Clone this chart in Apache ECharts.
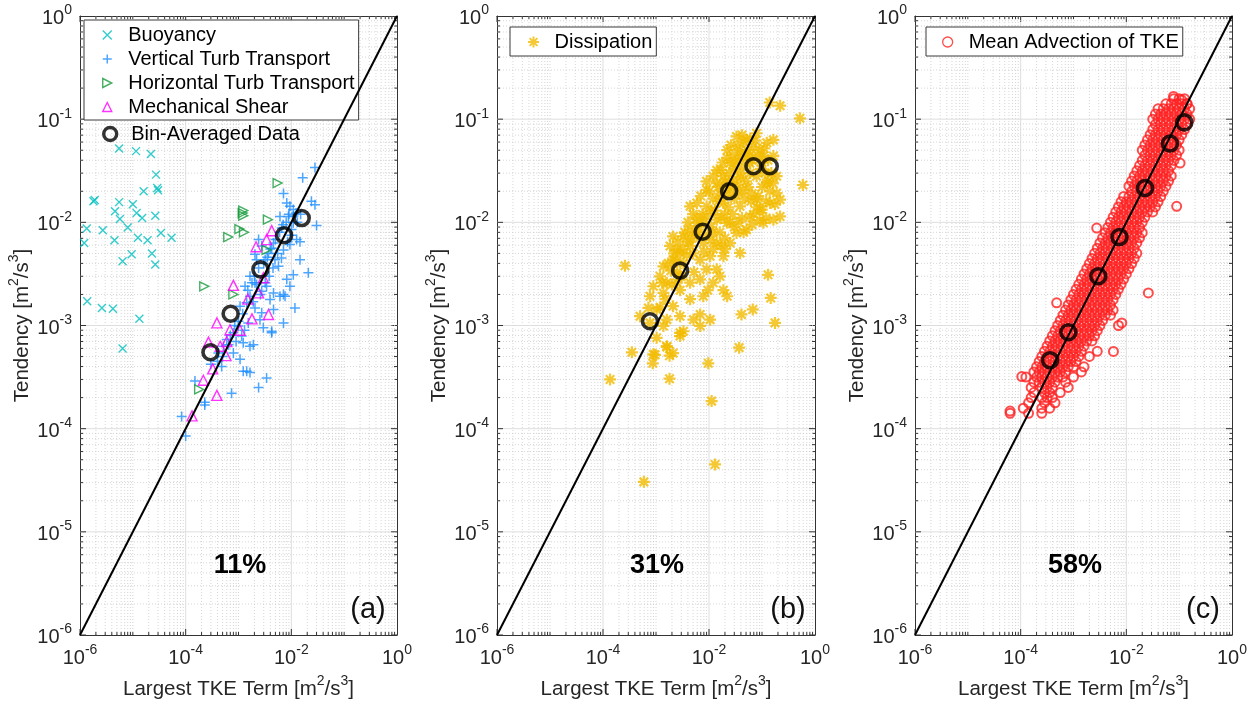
<!DOCTYPE html>
<html><head><meta charset="utf-8">
<script src="https://cdn.jsdelivr.net/npm/echarts@6/dist/echarts.min.js"></script>
<style>html,body{margin:0;padding:0;background:#fff}#c{width:1257px;height:705px}</style>
</head><body><div id="c"></div><script>
// ---------------- DATA ----------------
const axisLimits = [1e-6, 1];
const xLabelExponents = [-6, -4, -2, 0];
const yLabelExponents = [-6, -5, -4, -3, -2, -1, 0];
const oneToOne = [1e-6, 1];
const percentLabels = ['11%', '31%', '58%'];
const panelLabels = ['(a)', '(b)', '(c)'];
const xAxisName = 'Largest TKE Term';
const yAxisName = 'Tendency';

const buoyancy = [[5.5e-6,5.2e-2],[1.15e-5,4.9e-2],[2.2e-5,4.6e-2],[2.75e-5,2.9e-2],[1.6e-5,2.0e-2],[2.9e-5,2.15e-2],[3.0e-5,2.05e-2],[1.9e-6,1.65e-2],[1.8e-6,1.6e-2],[5.5e-6,1.57e-2],[1.0e-5,1.5e-2],[4.6e-6,1.28e-2],[1.18e-5,1.23e-2],[2.66e-5,1.16e-2],[5.7e-6,1.08e-2],[1.5e-5,1.1e-2],[8.0e-6,8.9e-3],[1.34e-6,8.7e-3],[2.7e-6,8.4e-3],[3.4e-5,7.9e-3],[5.4e-5,7.1e-3],[1.25e-5,7.1e-3],[1.9e-5,6.7e-3],[4.5e-6,6.7e-3],[1.2e-6,6.3e-3],[9.5e-6,4.9e-3],[2.3e-5,5.0e-3],[6.4e-6,4.2e-3],[2.66e-5,3.9e-3],[1.37e-6,1.72e-3],[2.6e-6,1.48e-3],[4.2e-6,1.45e-3],[1.33e-5,1.16e-3],[6.4e-6,6.0e-4]];

const vertTurbTransport = [[2.8e-2,3.4e-2],[1.64e-2,2.7e-2],[7.1e-3,1.9e-2],[8.2e-3,1.54e-2],[9.4e-3,1.43e-2],[1.09e-2,1.33e-2],[1.23e-2,1.23e-2],[2.4e-2,1.6e-2],[2.8e-2,1.48e-2],[3.0e-2,9.3e-3],[1.09e-2,9.9e-3],[8.8e-3,1.14e-2],[6.1e-3,1.14e-2],[6.6e-3,8.8e-3],[1.01e-2,8.5e-3],[1.26e-2,6.8e-3],[1.46e-2,6.5e-3],[9.4e-3,6.1e-3],[7.1e-3,5.4e-3],[4.6e-3,6.3e-3],[4.25e-3,5.6e-3],[3.7e-3,5.0e-3],[3.2e-3,4.35e-3],[2.4e-3,6.8e-3],[2.75e-3,5.9e-3],[2.05e-3,4.9e-3],[2.2e-3,4.35e-3],[4.9e-3,4.35e-3],[5.7e-3,3.76e-3],[1.46e-2,4.35e-3],[2.1e-2,3.24e-3],[1.09e-2,3.1e-3],[8.2e-3,2.8e-3],[9.4e-3,2.4e-3],[7.1e-3,2.0e-3],[6.1e-3,1.92e-3],[4.6e-3,2.07e-3],[3.95e-3,1.79e-3],[3.4e-3,2.4e-3],[2.75e-3,2.15e-3],[2.05e-3,2.6e-3],[1.65e-3,3.0e-3],[1.33e-3,2.4e-3],[1.65e-3,1.92e-3],[1.43e-3,1.66e-3],[1.07e-3,1.54e-3],[2.05e-3,1.48e-3],[2.75e-3,1.33e-3],[4.6e-3,1.43e-3],[7.6e-3,1.92e-3],[1.17e-2,1.48e-3],[2.55e-3,1.14e-3],[1.53e-3,1.06e-3],[9.9e-4,9.9e-4],[8.0e-4,8.5e-4],[6.0e-4,7.3e-4],[1.15e-3,7.9e-4],[1.23e-3,6.8e-4],[1.65e-3,6.3e-4],[4.25e-3,8.5e-4],[7.1e-3,1.06e-3],[5.2e-4,6.3e-4],[4.15e-4,5.4e-4],[4.8e-4,4.0e-4],[1.07e-3,4.7e-4],[1.23e-3,3.6e-4],[1.65e-3,3.5e-4],[8.0e-4,5.4e-4],[3.4e-3,3.1e-4],[2.4e-3,2.5e-4],[7.4e-4,2.2e-4],[2.3e-4,1.7e-4],[1.5e-4,2.9e-4],[8.4e-5,1.31e-4],[1.0e-4,8.5e-5],[2.3e-4,1.8e-4],[1.43e-3,3.6e-4],[4.25e-3,8.8e-4],[1.91e-3,6.5e-4],[2.95e-3,9.5e-4],[2.0e-3,3.0e-3],[2.4e-3,3.6e-3],[3.0e-3,4.0e-3],[1.8e-3,2.6e-3],[1.5e-3,2.2e-3],[2.2e-3,2.5e-3],[3.5e-3,4.6e-3],[4.0e-3,5.5e-3],[5.0e-3,6.8e-3],[6.0e-3,8.0e-3],[7.0e-3,9.5e-3],[8.0e-3,1.0e-2],[9.0e-3,1.2e-2],[1.1e-2,1.15e-2],[5.5e-3,5.0e-3],[4.5e-3,3.6e-3],[3.8e-3,3.0e-3],[3.2e-3,2.6e-3],[2.6e-3,2.0e-3],[1.9e-3,1.7e-3],[1.2e-3,1.3e-3],[1.0e-3,1.1e-3],[8.5e-4,1.0e-3],[7.0e-4,8.0e-4],[6.5e-4,6.5e-4],[9.0e-4,7.0e-4],[1.3e-3,9.0e-4],[5.0e-4,5.0e-4],[4.0e-4,4.5e-4],[3.0e-4,4.2e-4],[1.3e-2,1.0e-2],[1.0e-2,7.5e-3],[8.5e-3,6.5e-3],[6.5e-3,4.5e-3],[1.5e-2,1.2e-2]];

const horizTurbTransport = [[5.5e-3,2.4e-2],[1.23e-3,1.3e-2],[1.2e-3,1.23e-2],[1.23e-3,1.16e-2],[3.6e-3,1.06e-2],[6.4e-4,7.2e-3],[1.04e-3,8.6e-3],[1.27e-3,8.0e-3],[2.25e-4,2.4e-3],[8.0e-4,2.0e-3],[1.8e-4,2.4e-4],[3.4e-3,5.4e-3]];

const mechShear = [[8.0e-4,2.45e-3],[3.9e-4,1.06e-3],[1.07e-3,9.0e-4],[1.8e-3,1.16e-3],[3.7e-3,1.28e-3],[2.7e-4,6.9e-4],[3.25e-4,3.8e-4],[2.16e-4,2.95e-4],[3.9e-4,2.1e-4],[1.32e-4,1.33e-4],[5.8e-4,5.1e-4],[2.15e-3,5.8e-3],[4.25e-3,8.3e-3],[3.4e-3,6.8e-3],[2.95e-3,2.9e-3],[2.4e-3,2.07e-3],[6.0e-4,7.0e-4],[4.5e-4,6.3e-4],[6.9e-4,9.1e-4],[1.5e-3,1.8e-3]];

const binAvgA = [[1.57e-2,1.1e-2],[7.3e-3,7.5e-3],[2.6e-3,3.5e-3],[7.1e-4,1.3e-3],[2.95e-4,5.5e-4]];

const dissipation = [[5.2e-1,1.02e-1],[5.9e-1,2.3e-2],[1.3e-1,3.1e-3],[1.46e-1,1.85e-3],[1.76e-1,1.06e-3],[6.7e-2,1.43e-3],[4.1e-2,1.28e-3],[3.7e-2,6.1e-4],[2.6e-4,3.8e-3],[2.2e-1,1.35e-1],[1.4e-1,1.45e-1],[3.5e-4,5.5e-4],[1.36e-4,3.0e-4],[8.7e-4,4.3e-4],[9.6e-4,5.2e-4],[1.8e-3,5.1e-4],[2.1e-3,5.4e-4],[1.8e-3,3.05e-4],[9.7e-3,4.3e-4],[1.12e-2,1.85e-4],[1.3e-2,4.5e-5],[5.9e-4,3.05e-5],[1.6e-3,6.2e-4],
[7.9e-2,7.3e-2],[5.1e-2,6.3e-2],[3.3e-2,6.8e-2],[2.2e-2,5.0e-2],[3.85e-2,5.0e-2],[6.9e-2,5.4e-2],[1.23e-1,5.9e-2],[1.64e-1,6.3e-2],[1.06e-1,4.4e-2],[1.64e-1,4.4e-2],[1.89e-1,2.8e-2],[5.9e-2,3.75e-2],[2.5e-2,3.75e-2],[1.4e-2,3.2e-2],[1.87e-2,2.8e-2],[3.85e-2,3.0e-2],[7.9e-2,2.8e-2],[1.23e-1,2.4e-2],[1.89e-1,1.92e-2],[2.19e-1,1.66e-2],[1.42e-1,1.54e-2],[7.9e-2,1.66e-2],[4.45e-2,2.07e-2],[2.9e-2,2.2e-2],[1.4e-2,2.4e-2],[9.0e-3,2.07e-2],[5.9e-3,1.54e-2],[4.4e-3,1.43e-2],[9.0e-3,1.43e-2],[1.87e-2,1.54e-2],[3.85e-2,1.43e-2],[5.9e-2,1.14e-2],[9.2e-2,1.33e-2],[1.06e-1,9.9e-3],[1.64e-1,1.06e-2],[2.19e-1,1.14e-2],[5.1e-2,8.5e-3],[3.3e-2,7.9e-3],[2.2e-2,9.9e-3],[1.4e-2,1.06e-2],[9.0e-3,1.14e-2],[5.9e-3,9.9e-3],[4.4e-3,8.5e-3],[3.3e-3,7.3e-3],[2.1e-3,7.3e-3],[1.84e-3,5.9e-3],[2.45e-3,5.4e-3],[4.4e-3,5.9e-3],[7.8e-3,6.3e-3],[1.4e-2,6.3e-3],[2.5e-2,6.3e-3],[3.85e-2,5.05e-3],[1.87e-2,4.7e-3],[1.05e-2,4.7e-3],[6.8e-3,4.35e-3],[1.4e-2,3.5e-3],[3.3e-3,4.0e-3],[2.1e-3,4.35e-3],[1.38e-3,3.75e-3],[1.19e-3,3.0e-3],[1.6e-3,2.6e-3],[8.9e-4,2.4e-3],[7.7e-4,1.92e-3],[1.38e-3,2.07e-3],[4.4e-3,2.6e-3],[6.8e-3,2.8e-3],[1.2e-2,2.6e-3],[1.87e-2,2.2e-3],[2.2e-2,1.92e-3],[4.4e-3,1.8e-3],[7.8e-3,1.92e-3],[2.84e-3,2.2e-3],[2.1e-3,1.54e-3],[5.0e-4,1.23e-3],[1.03e-3,1.43e-3],[7.7e-4,1.06e-3],[1.6e-3,1.14e-3],[2.84e-3,1.23e-3],[5.1e-3,1.14e-3],[6.8e-3,9.9e-4],[1.05e-2,1.14e-3],[2.84e-3,8.5e-4],[9.9e-2,1.33e-2],
[8.9e-4,5.25e-4],[1.03e-3,7.6e-4],[1.6e-3,6.3e-4],[2.84e-3,7.9e-4],[3.3e-3,8.8e-4],[7.2e-4,1.48e-3],[6.8e-3,1.28e-3],[1.38e-3,9.9e-4],
[1.0e-2,2.0e-2],[1.2e-2,1.7e-2],[1.6e-2,1.9e-2],[2.0e-2,2.5e-2],[3.0e-2,2.6e-2],[3.5e-2,4.0e-2],[4.5e-2,3.5e-2],[2.8e-2,1.2e-2],[2.0e-2,1.2e-2],[1.6e-2,8.0e-3],[1.1e-2,6.8e-3],[8.0e-3,1.0e-2],[6.0e-3,7.5e-3],[5.0e-3,5.0e-3],[3.8e-3,4.8e-3],[3.0e-3,3.0e-3],[2.5e-3,3.3e-3],[2.0e-3,2.5e-3],[1.5e-3,1.8e-3],[1.2e-3,1.5e-3],[9.0e-3,3.5e-3],[6.0e-2,4.5e-2],[9.0e-2,5.0e-2],[1.3e-1,4.0e-2],[1.5e-1,3.0e-2],[1.0e-1,2.2e-2],[7.0e-2,1.2e-2],[3.0e-2,1.7e-2],[5.0e-2,2.5e-2],[2.4e-2,3.0e-2],
[3.5e-2,5.5e-2],[4.5e-2,6.0e-2],[6.0e-2,6.5e-2],[2.8e-2,4.5e-2],[1.8e-2,3.8e-2],[1.2e-2,2.8e-2],[9.0e-3,2.5e-2],[7.0e-3,1.8e-2],[5.0e-3,1.2e-2],[4.0e-3,1.0e-2],[3.5e-3,8.0e-3],[2.6e-3,6.5e-3],[2.2e-3,5.0e-3],[1.7e-3,4.0e-3],[1.3e-3,2.6e-3],[2.8e-3,3.0e-3],[3.2e-3,5.5e-3],[4.8e-3,7.0e-3],[6.5e-3,8.5e-3],[8.5e-3,7.5e-3],[1.1e-2,9.0e-3],[1.3e-2,1.3e-2],[1.7e-2,1.1e-2],[2.3e-2,1.4e-2],[2.6e-2,1.9e-2],[3.4e-2,2.3e-2],[4.0e-2,2.7e-2],[5.5e-2,2.2e-2],[6.5e-2,1.9e-2],[8.5e-2,1.8e-2],[1.2e-1,1.6e-2],[1.4e-1,2.0e-2],[6.0e-2,3.0e-2],[9.5e-2,3.3e-2],[1.1e-1,5.2e-2],[4.8e-2,4.6e-2],[3.0e-2,3.3e-2],[2.1e-2,2.1e-2],[1.5e-2,1.6e-2],[8.0e-3,5.2e-3],[1.2e-2,5.5e-3],[2.0e-2,7.0e-3],[3.0e-2,9.0e-3],[4.2e-2,1.1e-2],[5.2e-3,3.3e-3],[2.5e-3,2.6e-3],[9.5e-3,2.2e-3],[1.6e-2,3.0e-3],
[1.5e-2,2.2e-2],[1.7e-2,3.2e-2],[2.2e-2,4.2e-2],[2.6e-2,5.6e-2],[3.1e-2,3.8e-2],[3.9e-2,4.4e-2],[4.2e-2,7.0e-2],[5.5e-2,5.0e-2],[6.5e-2,4.0e-2],[7.5e-2,6.2e-2],[8.5e-2,4.4e-2],[1.0e-1,3.8e-2],[1.15e-1,3.0e-2],[1.3e-1,2.5e-2],[1.6e-1,2.4e-2],[1.75e-1,1.5e-2],[1.2e-1,1.1e-2],[8.0e-2,1.4e-2],[6.2e-2,1.6e-2],[4.8e-2,1.7e-2],[3.6e-2,1.9e-2],[2.4e-2,2.4e-2],[1.9e-2,1.8e-2],[1.1e-2,1.3e-2],[7.5e-3,1.2e-2],[6.0e-3,1.1e-2],[5.5e-3,8.0e-3],[4.0e-3,6.5e-3],[2.9e-3,5.0e-3],[2.4e-3,4.2e-3],[1.9e-3,3.4e-3],[4.5e-2,8.0e-3],[3.6e-2,1.0e-2],[2.5e-2,1.0e-2],[1.7e-2,6.0e-3],[1.2e-2,8.0e-3],[6.5e-2,9.5e-3],[9.0e-2,1.05e-2],[2.0e-2,5.5e-3],[5.0e-2,4.2e-2]];

const binAvgB = [[7.7e-4,1.1e-3],[2.85e-3,3.4e-3],[7.6e-3,8.1e-3],[2.4e-2,2.0e-2],[6.9e-2,3.5e-2],[1.4e-1,3.5e-2]];

// Mean advection: rows of [tendency, [largest-term values read across the cloud]]
const advectionRows = [
[0.158,[7.94e-2,0.1,0.126]],
[0.141,[5.62e-2,7.08e-2,8.91e-2,0.112,0.141]],
[0.126,[3.98e-2,5.01e-2,6.31e-2,7.94e-2,0.1,0.126,0.158]],
[0.112,[3.55e-2,4.47e-2,5.62e-2,7.08e-2,8.91e-2,0.112,0.141]],
[0.1,[3.16e-2,3.98e-2,5.01e-2,6.31e-2,7.94e-2,0.1,0.126,0.158]],
[8.91e-2,[3.55e-2,4.47e-2,5.62e-2,7.08e-2,8.91e-2,0.112,0.141]],
[7.94e-2,[3.16e-2,3.98e-2,5.01e-2,6.31e-2,7.94e-2,0.1,0.126]],
[7.08e-2,[2.82e-2,3.55e-2,4.47e-2,5.62e-2,7.08e-2,8.91e-2,0.112]],
[6.31e-2,[2.51e-2,3.16e-2,3.98e-2,5.01e-2,6.31e-2,7.94e-2,0.1]],
[5.62e-2,[2.24e-2,2.82e-2,3.55e-2,4.47e-2,5.62e-2,7.08e-2,8.91e-2]],
[5.01e-2,[2.0e-2,2.51e-2,3.16e-2,3.98e-2,5.01e-2,6.31e-2,7.94e-2,0.1]],
[4.47e-2,[2.24e-2,2.82e-2,3.55e-2,4.47e-2,5.62e-2,7.08e-2,8.91e-2]],
[3.98e-2,[2.0e-2,2.51e-2,3.16e-2,3.98e-2,5.01e-2,6.31e-2,7.94e-2]],
[3.55e-2,[1.78e-2,2.24e-2,2.82e-2,3.55e-2,4.47e-2,5.62e-2,7.08e-2]],
[3.16e-2,[1.58e-2,2.0e-2,2.51e-2,3.16e-2,3.98e-2,5.01e-2,6.31e-2]],
[2.82e-2,[1.41e-2,1.78e-2,2.24e-2,2.82e-2,3.55e-2,4.47e-2,5.62e-2,7.08e-2]],
[2.51e-2,[1.26e-2,1.58e-2,2.0e-2,2.51e-2,3.16e-2,3.98e-2,5.01e-2,6.31e-2]],
[2.24e-2,[1.12e-2,1.41e-2,1.78e-2,2.24e-2,2.82e-2,3.55e-2,4.47e-2,5.62e-2]],
[2.0e-2,[1.26e-2,1.58e-2,2.0e-2,2.51e-2,3.16e-2,3.98e-2,5.01e-2]],
[1.78e-2,[8.91e-3,1.12e-2,1.41e-2,1.78e-2,2.24e-2,2.82e-2,3.55e-2,4.47e-2]],
[1.58e-2,[7.94e-3,1e-2,1.26e-2,1.58e-2,2.0e-2,2.51e-2,3.16e-2,3.98e-2]],
[1.41e-2,[7.08e-3,8.91e-3,1.12e-2,1.41e-2,1.78e-2,2.24e-2,2.82e-2,3.55e-2]],
[1.26e-2,[6.31e-3,7.94e-3,1e-2,1.26e-2,1.58e-2,2.0e-2,2.51e-2,3.16e-2]],
[1.12e-2,[5.62e-3,7.08e-3,8.91e-3,1.12e-2,1.41e-2,1.78e-2,2.24e-2]],
[1e-2,[5.01e-3,6.31e-3,7.94e-3,1e-2,1.26e-2,1.58e-2,2.0e-2]],
[8.91e-3,[4.47e-3,5.62e-3,7.08e-3,8.91e-3,1.12e-2,1.41e-2,1.78e-2]],
[7.94e-3,[3.98e-3,5.01e-3,6.31e-3,7.94e-3,1e-2,1.26e-2,1.58e-2,2.0e-2]],
[7.08e-3,[3.55e-3,4.47e-3,5.62e-3,7.08e-3,8.91e-3,1.12e-2,1.41e-2,1.78e-2]],
[6.31e-3,[3.16e-3,3.98e-3,5.01e-3,6.31e-3,7.94e-3,1e-2,1.26e-2,1.58e-2]],
[5.62e-3,[2.82e-3,3.55e-3,4.47e-3,5.62e-3,7.08e-3,8.91e-3,1.12e-2,1.41e-2]],
[5.01e-3,[2.51e-3,3.16e-3,3.98e-3,5.01e-3,6.31e-3,7.94e-3,1e-2,1.26e-2,1.58e-2]],
[4.47e-3,[2.24e-3,2.82e-3,3.55e-3,4.47e-3,5.62e-3,7.08e-3,8.91e-3,1.12e-2,1.41e-2]],
[3.98e-3,[2.0e-3,2.51e-3,3.16e-3,3.98e-3,5.01e-3,6.31e-3,7.94e-3,1e-2,1.26e-2]],
[3.55e-3,[1.78e-3,2.24e-3,2.82e-3,3.55e-3,4.47e-3,5.62e-3,7.08e-3,8.91e-3,1.12e-2]],
[3.16e-3,[1.58e-3,2.0e-3,2.51e-3,3.16e-3,3.98e-3,5.01e-3,6.31e-3,7.94e-3,1e-2]],
[2.82e-3,[1.41e-3,1.78e-3,2.24e-3,2.82e-3,3.55e-3,4.47e-3,5.62e-3,7.08e-3,8.91e-3]],
[2.51e-3,[1.26e-3,1.58e-3,2.0e-3,2.51e-3,3.16e-3,3.98e-3,5.01e-3,6.31e-3,7.94e-3]],
[2.24e-3,[1.12e-3,1.41e-3,1.78e-3,2.24e-3,2.82e-3,3.55e-3,4.47e-3,5.62e-3,7.08e-3]],
[2.0e-3,[1e-3,1.26e-3,1.58e-3,2.0e-3,2.51e-3,3.16e-3,3.98e-3,5.01e-3,6.31e-3]],
[1.78e-3,[8.91e-4,1.12e-3,1.41e-3,1.78e-3,2.24e-3,2.82e-3,3.55e-3,4.47e-3,5.62e-3]],
[1.58e-3,[7.94e-4,1e-3,1.26e-3,1.58e-3,2.0e-3,2.51e-3,3.16e-3,3.98e-3,5.01e-3]],
[1.41e-3,[7.08e-4,8.91e-4,1.12e-3,1.41e-3,1.78e-3,2.24e-3,2.82e-3,3.55e-3,4.47e-3,5.62e-3]],
[1.26e-3,[6.31e-4,7.94e-4,1e-3,1.26e-3,1.58e-3,2.0e-3,2.51e-3,3.16e-3,3.98e-3,5.01e-3]],
[1.12e-3,[5.62e-4,7.08e-4,8.91e-4,1.12e-3,1.41e-3,1.78e-3,2.24e-3,2.82e-3,3.55e-3]],
[1e-3,[5.01e-4,6.31e-4,7.94e-4,1e-3,1.26e-3,1.58e-3,2.0e-3,2.51e-3,3.16e-3]],
[8.91e-4,[4.47e-4,5.62e-4,7.08e-4,8.91e-4,1.12e-3,1.41e-3,1.78e-3,2.24e-3,2.82e-3]],
[7.94e-4,[3.98e-4,5.01e-4,6.31e-4,7.94e-4,1e-3,1.26e-3,1.58e-3,2.0e-3,2.51e-3]],
[7.08e-4,[3.55e-4,4.47e-4,5.62e-4,7.08e-4,8.91e-4,1.12e-3,1.41e-3,1.78e-3,2.24e-3]],
[6.31e-4,[3.16e-4,3.98e-4,5.01e-4,6.31e-4,7.94e-4,1e-3,1.26e-3,1.58e-3]],
[5.62e-4,[2.82e-4,3.55e-4,4.47e-4,5.62e-4,7.08e-4,8.91e-4,1.12e-3,1.41e-3,2.82e-3]],
[5.01e-4,[2.51e-4,3.16e-4,3.98e-4,5.01e-4,6.31e-4,7.94e-4,1e-3,1.26e-3,2.0e-3]],
[4.47e-4,[2.24e-4,2.82e-4,3.55e-4,4.47e-4,5.62e-4,7.08e-4,8.91e-4,1.12e-3]],
[3.98e-4,[2.0e-4,2.51e-4,3.16e-4,3.98e-4,5.01e-4,6.31e-4,7.94e-4,1e-3,1.58e-3]],
[3.55e-4,[1.78e-4,2.24e-4,2.82e-4,3.55e-4,4.47e-4,5.62e-4,7.08e-4,1.41e-3]],
[3.16e-4,[1.26e-4,2.0e-4,2.51e-4,3.16e-4,3.98e-4,5.01e-4,6.31e-4,1e-3]],
[2.82e-4,[1.78e-4,2.24e-4,2.82e-4,3.55e-4,4.47e-4,7.08e-4]],
[2.51e-4,[1.58e-4,2.51e-4,3.16e-4,3.98e-4,7.94e-4]],
[2.24e-4,[1.78e-4,2.82e-4,3.55e-4,5.62e-4]],
[2.0e-4,[1.58e-4,2.51e-4,3.16e-4,3.98e-4]],
[1.78e-4,[1.41e-4,2.82e-4,4.47e-4]],
[1.58e-4,[1.12e-4,2.51e-4,3.55e-4]],
[1.41e-4,[6.31e-5,1.41e-4,2.51e-4]]
];
const advectionOutliers = [[1.04e-1,3.75e-2],[8.97e-2,1.43e-2],[2.61e-2,2.07e-3],[2.75e-3,8.8e-3],[4.8e-4,1.66e-3],[8.2e-3,1.06e-3],[7.1e-3,1.0e-3],[5.7e-3,5.6e-4],[1.05e-4,3.2e-4],[6.3e-5,1.48e-4],[7.8e-2,1.66e-1],[1.11e-1,1.54e-1],[1.41e-1,1.41e-1]];

const binAvgC = [[1.25e-1,9.3e-2],[6.7e-2,5.8e-2],[2.26e-2,2.15e-2],[7.4e-3,7.2e-3],[2.95e-3,3.0e-3],[8.0e-4,8.6e-4],[3.6e-4,4.6e-4]];

// ---------------- BUILD ----------------
const FONT = '"Liberation Sans", Arial, Helvetica, sans-serif';
const AXC = '#333333';
const TXT = '#262626';
const C_CYAN = '#00bfbf', C_BLUE = '#1f8fff', C_GREEN = '#169b3c', C_MAG = '#ff00ff', C_YEL = '#f2bb00', C_RED = '#ff2020';

const advection = [];
advectionRows.forEach(r => r[1].forEach(x => advection.push([x, r[0]])));
advectionOutliers.forEach(p => advection.push(p));

// grid / tick positions: [v, v, xMajor, yMajor]
const gridValues = [];
for (let k = -6; k <= -1; k++) {
  for (let m = 1; m <= 9; m++) {
    const v = m * Math.pow(10, k);
    const xMajor = (m === 1 && xLabelExponents.indexOf(k) >= 0) ? 1 : 0;
    const yMajor = (m === 1 && yLabelExponents.indexOf(k) >= 0) ? 1 : 0;
    gridValues.push([v, v, xMajor, yMajor]);
  }
}

const RICH = {
  b: {fontSize: 20, fontFamily: FONT, color: TXT, padding: [5, 0, 0, 0], verticalAlign: 'bottom'},
  s: {fontSize: 14, fontFamily: FONT, color: TXT, verticalAlign: 'top'}
};
function fmtX(v) {
  const e = Math.round(Math.log10(v));
  return xLabelExponents.indexOf(e) >= 0 ? '{b|10}{s|' + e + '}' : '';
}
function fmtY(v) {
  const e = Math.round(Math.log10(v));
  return yLabelExponents.indexOf(e) >= 0 ? '{b|10}{s|' + e + '}' : '';
}
const NAME_RICH = {
  n: {fontSize: 20.5, fontFamily: FONT, color: TXT, padding: [5, 0, 0, 0], verticalAlign: 'bottom'},
  s: {fontSize: 14, fontFamily: FONT, color: TXT, verticalAlign: 'top'}
};
function unitName(base) { return '{n|' + base + ' [m}{s|2}{n|/s}{s|3}{n|]}'; }

const grids = [
  {left: 80, top: 16, width: 317, height: 620},
  {left: 497, top: 16, width: 318, height: 620},
  {left: 915, top: 16, width: 317, height: 620}
];

const xAxes = [], yAxes = [];
for (let g = 0; g < 3; g++) {
  const common = {type: 'log', logBase: 10, min: axisLimits[0], max: axisLimits[1], gridIndex: g,
    splitLine: {show: false}, minorTick: {show: false}, minorSplitLine: {show: false},
    axisLine: {show: true, onZero: false, lineStyle: {color: AXC, width: 1}},
    axisTick: {show: false}};
  xAxes.push(Object.assign({}, common, {position: 'bottom',
    axisLabel: {show: true, margin: 8, formatter: fmtX, rich: RICH},
    name: unitName(xAxisName), nameLocation: 'middle', nameGap: 39, nameTextStyle: {rich: NAME_RICH}}));
  xAxes.push(Object.assign({}, common, {position: 'top', axisLabel: {show: false}}));
  yAxes.push(Object.assign({}, common, {position: 'left',
    axisLabel: {show: true, margin: 8, formatter: fmtY, rich: RICH},
    name: unitName(yAxisName), nameLocation: 'middle', nameGap: 47, nameTextStyle: {rich: NAME_RICH}}));
  yAxes.push(Object.assign({}, common, {position: 'right', axisLabel: {show: false}}));
}

function renderGrid(params, api) {
  const v = api.value(0), xMajor = api.value(2), yMajor = api.value(3);
  const b = api.coord([v, axisLimits[0]]), t = api.coord([v, axisLimits[1]]);
  const l = api.coord([axisLimits[0], v]), r = api.coord([axisLimits[1], v]);
  const majorStyle = {stroke: '#dedede', lineWidth: 1};
  const minorStyle = {stroke: '#cbcbcb', lineWidth: 0.8, lineDash: [1, 2]};
  const ts = {stroke: AXC, lineWidth: 1};
  const ch = [];
  const onEdge = (v === axisLimits[0]);
  if (!onEdge) {
    ch.push({type: 'line', shape: {x1: b[0], y1: b[1], x2: t[0], y2: t[1]}, style: xMajor ? majorStyle : minorStyle});
    ch.push({type: 'line', shape: {x1: l[0], y1: l[1], x2: r[0], y2: r[1]}, style: yMajor ? majorStyle : minorStyle});
  }
  const LX = xMajor ? 6 : 3, LY = yMajor ? 6 : 3;
  ch.push({type: 'line', shape: {x1: b[0], y1: b[1], x2: b[0], y2: b[1] - LX}, style: ts});
  ch.push({type: 'line', shape: {x1: t[0], y1: t[1], x2: t[0], y2: t[1] + LX}, style: ts});
  ch.push({type: 'line', shape: {x1: l[0], y1: l[1], x2: l[0] + LY, y2: l[1]}, style: ts});
  ch.push({type: 'line', shape: {x1: r[0], y1: r[1], x2: r[0] - LY, y2: r[1]}, style: ts});
  return {type: 'group', children: ch};
}

const SYM_X = 'path://M0,0L10,10M10,0L0,10';
const SYM_PLUS = 'path://M5,0L5,10M0,5L10,5';
const SYM_TRI_R = 'path://M0,0L10,5L0,10Z';
const SYM_TRI_U = 'path://M5,0L10,10L0,10Z';
const SYM_AST = 'path://M5,0L5,10M0,5L10,5M1.46,1.46L8.54,8.54M8.54,1.46L1.46,8.54';

function hollow(c, w) { return {color: 'rgba(0,0,0,0)', borderColor: c, borderWidth: w}; }
function scat(name, g, data, symbol, size, color, w, z) {
  return {type: 'scatter', name: name, xAxisIndex: 2 * g, yAxisIndex: 2 * g, data: data,
    symbol: symbol, symbolSize: size, itemStyle: hollow(color, w), z: z || 2,
    silent: true, animation: false, emphasis: {disabled: true}};
}

const series = [];
for (let g = 0; g < 3; g++) {
  series.push({type: 'custom', xAxisIndex: 2 * g, yAxisIndex: 2 * g, data: gridValues,
    renderItem: renderGrid, z: 1, silent: true, animation: false});
}
series.push(scat('Buoyancy', 0, buoyancy, SYM_X, 8, C_CYAN, 1.4));
series.push(scat('Vertical Turb Transport', 0, vertTurbTransport, SYM_PLUS, 10, C_BLUE, 1.5));
series.push(scat('Horizontal Turb Transport', 0, horizTurbTransport, SYM_TRI_R, 9, C_GREEN, 1.4));
series.push(scat('Mechanical Shear', 0, mechShear, SYM_TRI_U, 10, C_MAG, 1.4));
series.push(scat('Dissipation', 1, dissipation, SYM_AST, 12, C_YEL, 2.2));
series.push(scat('Mean Advection of TKE', 2, advection, 'circle', 9, C_RED, 2.0));
for (let g = 0; g < 3; g++) {
  series.push({type: 'line', name: 'oneToOne' + g, xAxisIndex: 2 * g, yAxisIndex: 2 * g,
    data: [[oneToOne[0], oneToOne[0]], [oneToOne[1], oneToOne[1]]], symbol: 'none',
    lineStyle: {color: '#000', width: 2}, z: 5, silent: true, animation: false});
}
[binAvgA, binAvgB, binAvgC].forEach((d, g) => series.push(scat('Bin-Averaged Data', g, d, 'circle', 15, '#000', 3.6, 6)));

const legText = {fontSize: 20, fontFamily: FONT, color: '#000'};
const legends = [
  {left: 84, top: 20, orient: 'vertical', padding: [5, 4, 3, 18], itemWidth: 32, itemHeight: 9, itemGap: 4,
   borderColor: '#3a3a3a', borderWidth: 1, backgroundColor: '#fff', textStyle: legText, selectedMode: false,
   data: [{name: 'Buoyancy', itemStyle: {borderWidth: 1.4}}, {name: 'Vertical Turb Transport', itemStyle: {borderWidth: 1.5}},
          {name: 'Horizontal Turb Transport', itemStyle: {borderWidth: 1.4}}, {name: 'Mechanical Shear', itemStyle: {borderWidth: 1.4}}]},
  {left: 102, top: 124, orient: 'vertical', padding: 0, itemWidth: 32, itemHeight: 13, textStyle: legText, selectedMode: false,
   data: [{name: 'Bin-Averaged Data', itemStyle: {borderWidth: 3.4}}]},
  {left: 510, top: 27, padding: [5, 4, 4, 17], itemWidth: 32, itemHeight: 11, borderColor: '#3a3a3a', borderWidth: 1,
   backgroundColor: '#fff', textStyle: legText, selectedMode: false, data: [{name: 'Dissipation', itemStyle: {borderWidth: 2}}]},
  {left: 926, top: 27, padding: [5, 4, 4, 16], itemWidth: 32, itemHeight: 10, borderColor: '#3a3a3a', borderWidth: 1,
   backgroundColor: '#fff', textStyle: legText, selectedMode: false, data: [{name: 'Mean Advection of TKE', itemStyle: {borderWidth: 1.3}}]}
];

const pctPos = [[240, 566], [657, 566], [1075, 566]];
const lblPos = [[368, 610], [788, 610], [1203, 610]];
const graphics = [];
for (let g = 0; g < 3; g++) {
  graphics.push({type: 'text', x: pctPos[g][0], y: pctPos[g][1], z: 100,
    style: {text: percentLabels[g], font: 'bold 27px ' + FONT, fill: '#000', align: 'center', verticalAlign: 'middle'}});
  graphics.push({type: 'text', x: lblPos[g][0], y: lblPos[g][1], z: 100,
    style: {text: panelLabels[g], font: '29px ' + FONT, fill: '#111', align: 'center', verticalAlign: 'middle'}});
}

const chart = echarts.init(document.getElementById('c'), null, {renderer: 'canvas'});
chart.setOption({
  animation: false,
  backgroundColor: '#fff',
  grid: grids,
  xAxis: xAxes,
  yAxis: yAxes,
  legend: legends,
  series: series,
  graphic: graphics
});
</script></body></html>
